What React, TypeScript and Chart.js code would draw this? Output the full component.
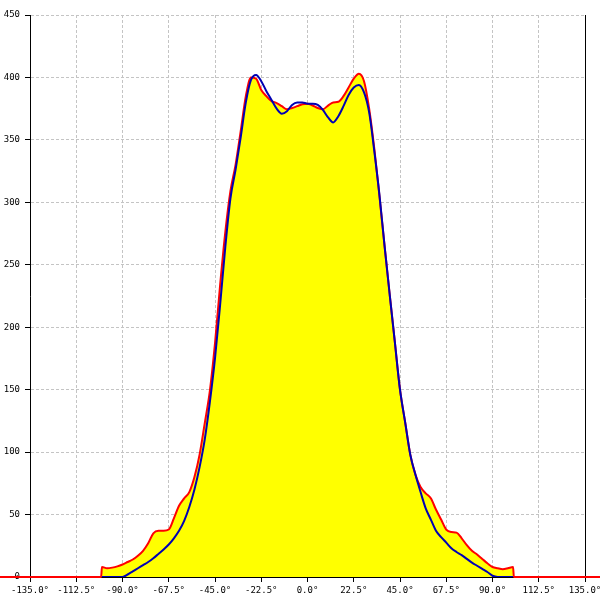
import React, { useEffect, useRef } from "react";
import { Chart, registerables } from "chart.js";

Chart.register(...registerables);

const angles = [
  -100, -97.5, -95, -92.5, -90, -87.5, -85, -82.5, -80, -77.5, -75, -72.5, -70, -67.5, -65, -62.5,
  -60, -57.5, -55, -52.5, -50, -47.5, -45, -42.5, -40, -37.5, -35, -32.5, -30, -27.5, -25, -22.5,
  -20, -17.5, -15, -12.5, -10, -7.5, -5, -2.5, 0, 2.5, 5, 7.5, 10, 12.5, 15, 17.5, 20, 22.5, 25,
  27.5, 30, 32.5, 35, 37.5, 40, 42.5, 45, 47.5, 50, 52.5, 55, 57.5, 60, 62.5, 65, 67.5, 70, 72.5,
  75, 77.5, 80, 82.5, 85, 87.5, 90, 92.5, 95, 97.5, 100,
];

const redValues = [
  8, 7, 7.5, 8.5, 10, 12, 14, 17, 21, 27, 35, 37, 37, 38, 47, 57,
  63, 68, 80, 98, 123, 149, 187, 234, 276, 309, 330, 357, 385, 400, 399, 390,
  385, 381, 379.5, 377, 374.5, 375.5, 377, 378.5, 379, 377.5, 375.5, 374.5, 377.5, 380, 380.5, 385, 392, 399, 403,
  397, 375, 343, 305, 265, 226, 188, 150, 124, 98, 82, 72, 67, 63, 54, 46, 38, 36, 35.5,
  31, 25.5, 21, 18, 14.5, 11, 8, 7, 6.3, 7, 8,
];

const blueValues = [
  0, 0, 0, 0, 0, 2, 4.5, 7, 9.5, 12, 15, 18.5, 22, 26, 31, 37,
  45, 56, 70, 88, 110, 140, 175, 218, 264, 303, 326, 352, 380, 398, 402, 397,
  389, 382, 375, 371, 373, 378, 380, 380, 379, 379, 378, 374, 368, 364, 369, 377, 386, 392, 394,
  388, 372, 341, 306, 265, 226, 188, 150, 124, 98, 82, 68, 55, 46, 37, 32, 27.5, 23, 20,
  17.5, 14.5, 11.5, 9, 6.5, 4, 1, 0, 0, 0, 0,
];

// red series baseline outside the measured range
const redLeadAngles = [-150, -100.4];
const redLeadValues = [0, 0];
const redTailAngles = [100.4, 150];
const redTailValues = [0, 0];

const xTicks = [-135, -112.5, -90, -67.5, -45, -22.5, 0, 22.5, 45, 67.5, 90, 112.5, 135];
const yTicks = [0, 50, 100, 150, 200, 250, 300, 350, 400, 450];

export default function App() {
  const ref = useRef<HTMLCanvasElement | null>(null);

  useEffect(() => {
    if (!ref.current) return;
    const redPts = [
      ...redLeadAngles.map((a, i) => ({ x: a, y: redLeadValues[i] })),
      ...angles.map((a, i) => ({ x: a, y: redValues[i] })),
      ...redTailAngles.map((a, i) => ({ x: a, y: redTailValues[i] })),
    ];
    const bluePts = angles.map((a, i) => ({ x: a, y: blueValues[i] }));

    const rightBorder = {
      id: "rightBorder",
      beforeDatasetsDraw(chart: any) {
        const { ctx, chartArea } = chart;
        ctx.save();
        ctx.strokeStyle = "#000";
        ctx.lineWidth = 1;
        ctx.beginPath();
        const x = Math.round(chartArea.right) + 0.5;
        ctx.moveTo(x, chartArea.top);
        ctx.lineTo(x, chartArea.bottom + 5);
        ctx.stroke();
        ctx.restore();
      },
    };

    const tickFont = { family: "'DejaVu Sans Mono', monospace", size: 9 };

    const chart = new Chart(ref.current, {
      type: "line",
      data: {
        datasets: [
          {
            label: "blue",
            data: bluePts,
            borderColor: "#0000b4",
            borderWidth: 2,
            pointRadius: 0,
            fill: false,
            cubicInterpolationMode: "monotone",
          },
          {
            label: "red",
            data: redPts,
            borderColor: "#ff0000",
            backgroundColor: "#ffff00",
            borderWidth: 2,
            pointRadius: 0,
            fill: "origin",
            clip: false,
            cubicInterpolationMode: "monotone",
          },
        ],
      },
      options: {
        animation: false,
        responsive: false,
        devicePixelRatio: 1,
        layout: { padding: { top: 15, right: 15, left: 0, bottom: 0 } },
        plugins: { legend: { display: false }, tooltip: { enabled: false } },
        scales: {
          x: {
            type: "linear",
            min: -135,
            max: 135,
            afterBuildTicks: (s: any) => {
              s.ticks = xTicks.map((v) => ({ value: v }));
            },
            afterFit: (s: any) => {
              s.height = 23;
              s.paddingLeft = 0;
              s.paddingRight = 0;
            },
            ticks: {
              font: tickFont,
              color: "#000",
              padding: 3,
              maxRotation: 0,
              autoSkip: false,
              callback: (v: any) => `${Number(v).toFixed(1)}°`,
            },
            grid: {
              color: "#c4c4c4",
              tickColor: "#000",
              tickLength: 5,
              tickBorderDash: [],
            },
            border: { color: "#000", dash: [3, 2] },
          },
          y: {
            type: "linear",
            min: 0,
            max: 450,
            afterBuildTicks: (s: any) => {
              s.ticks = yTicks.map((v) => ({ value: v }));
            },
            afterFit: (s: any) => {
              s.width = 30;
              s.paddingTop = 0;
              s.paddingBottom = 0;
            },
            ticks: {
              font: tickFont,
              color: "#000",
              padding: 5,
              autoSkip: false,
            },
            grid: {
              color: "#c4c4c4",
              tickColor: "#000",
              tickLength: 5,
              tickBorderDash: [],
            },
            border: { color: "#000", dash: [3, 2] },
          },
        },
      },
      plugins: [rightBorder],
    } as any);

    return () => chart.destroy();
  }, []);

  return (
    <div style={{ position: "absolute", left: 0, top: 0, width: 600, height: 600, background: "#fff" }}>
      <canvas ref={ref} width={600} height={600} style={{ width: 600, height: 600 }} />
    </div>
  );
}
